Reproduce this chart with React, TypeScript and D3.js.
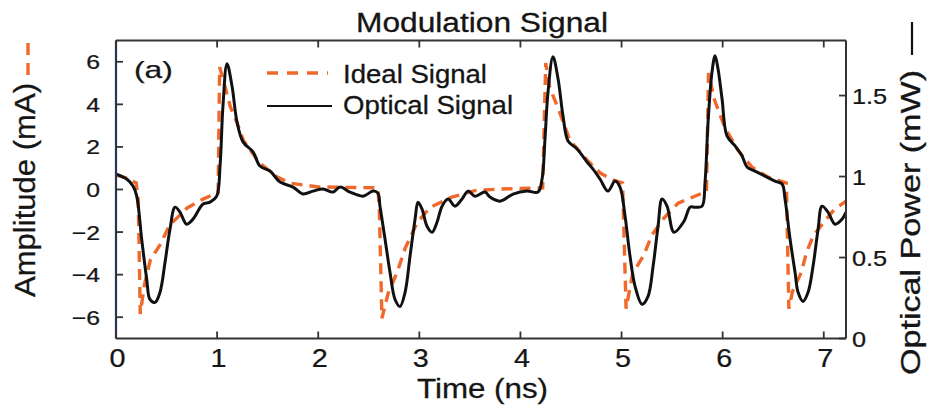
import React from "react";
import * as d3 from "d3";

// ---------- data ----------
const timeTicks = [0, 1, 2, 3, 4, 5, 6, 7];
const ampTicks = [-6, -4, -2, 0, 2, 4, 6];
const powerTicks = [0, 0.5, 1, 1.5];

const idealTime = [
  0.0, 0.1, 0.2, 0.22, 0.24, 0.28, 0.34, 0.435, 0.53, 0.7, 0.86, 0.98, 1.01, 1.025, 1.08, 1.13, 1.2, 1.26,
  1.42, 1.59, 1.72, 2.0, 2.3, 2.59, 2.605, 2.63, 2.69, 2.78, 2.86, 2.98, 3.11, 3.32, 3.55, 3.8, 4.22, 4.25,
  4.29, 4.39, 4.49, 4.66, 4.79, 4.92, 5.01, 5.045, 5.11, 5.22, 5.3, 5.42, 5.56, 5.8, 5.84, 5.86, 5.92, 6.02,
  6.15, 6.29, 6.45, 6.63, 6.655, 6.69, 6.78, 6.83, 6.9, 7.1, 7.22,
];
const idealAmp = [
  0.68, 0.55, 0.31, -0.5, -5.85, -4.5, -3.3, -2.6, -1.68, -0.88, -0.45, -0.2, -0.15, 5.75, 4.8, 3.9, 3.1, 2.3,
  1.25, 0.6, 0.3, 0.12, 0.1, 0.08, -1.0, -6.05, -4.9, -3.89, -2.76, -1.54, -0.83, -0.36, -0.05, 0.02, 0.08, 5.94,
  4.8, 3.6, 2.3, 1.38, 0.77, 0.44, 0.3, -5.6, -3.94, -3.09, -2.14, -1.34, -0.64, -0.17, -0.12, 5.47, 4.2, 2.93,
  1.85, 1.05, 0.58, 0.3, -5.6, -4.8, -3.87, -2.94, -2.14, -0.96, -0.55,
];

const opticalTime = [
  0.0, 0.106, 0.168, 0.205, 0.254, 0.304, 0.336, 0.386, 0.435, 0.485, 0.534, 0.584, 0.633, 0.699, 0.762, 0.861,
  0.93, 0.996, 1.029, 1.058, 1.098, 1.147, 1.197, 1.256, 1.355, 1.424, 1.523, 1.622, 1.751, 1.85, 1.948, 2.047,
  2.146, 2.216, 2.315, 2.443, 2.542, 2.59, 2.611, 2.661, 2.71, 2.76, 2.809, 2.859, 2.908, 2.958, 2.987, 3.027,
  3.076, 3.126, 3.175, 3.225, 3.284, 3.353, 3.422, 3.482, 3.551, 3.65, 3.699, 3.798, 3.927, 4.065, 4.174, 4.214,
  4.243, 4.273, 4.322, 4.372, 4.421, 4.471, 4.56, 4.659, 4.718, 4.787, 4.866, 4.936, 4.985, 5.035, 5.084, 5.134,
  5.203, 5.262, 5.312, 5.361, 5.401, 5.45, 5.519, 5.618, 5.678, 5.727, 5.796, 5.826, 5.856, 5.895, 5.925, 5.954,
  5.994, 6.043, 6.123, 6.192, 6.241, 6.32, 6.419, 6.518, 6.588, 6.617, 6.667, 6.716, 6.746, 6.795, 6.845, 6.894,
  6.944, 6.983, 7.042, 7.112, 7.181, 7.22,
];
const opticalPower = [
  1.015, 0.985, 0.941, 0.879, 0.613, 0.365, 0.241, 0.223, 0.285, 0.471, 0.675, 0.811, 0.78, 0.706, 0.737, 0.83,
  0.842, 0.879, 1.065, 1.437, 1.697, 1.56, 1.337, 1.214, 1.152, 1.065, 1.034, 0.966, 0.935, 0.892, 0.91, 0.923,
  0.904, 0.935, 0.904, 0.879, 0.91, 0.898, 0.817, 0.613, 0.409, 0.241, 0.198, 0.285, 0.508, 0.737, 0.842, 0.799,
  0.693, 0.656, 0.718, 0.817, 0.861, 0.817, 0.861, 0.91, 0.879, 0.904, 0.873, 0.848, 0.892, 0.91, 0.904, 0.985,
  1.232, 1.523, 1.74, 1.604, 1.375, 1.22, 1.17, 1.09, 1.046, 0.985, 0.91, 0.972, 0.935, 0.755, 0.508, 0.322,
  0.211, 0.26, 0.446, 0.693, 0.861, 0.817, 0.656, 0.724, 0.811, 0.811, 0.817, 0.966, 1.337, 1.647, 1.746, 1.666,
  1.48, 1.251, 1.189, 1.127, 1.059, 1.034, 1.003, 0.972, 0.954, 0.861, 0.613, 0.409, 0.285, 0.229, 0.285, 0.446,
  0.675, 0.817, 0.78, 0.706, 0.737, 0.78,
];

// ---------- layout / style ----------
const W = 928;
const H = 409;
const L = 116;
const R = 846;
const T = 40.5;
const B = 338.5;
const ORANGE = "#f0692b";
const FONT = "'Liberation Sans', Arial, Helvetica, sans-serif";
const TEXT = "#151515";
const TICK = 7;

export default function App() {
  const x = d3.scaleLinear().domain([0, 7.22]).range([L, R]);
  const yAmp = d3.scaleLinear().domain([-7, 7]).range([B, T]);
  const yPow = d3.scaleLinear().domain([0, 1.84]).range([B, T]);

  const idealData = idealTime.map((t, i) => [t, idealAmp[i]] as [number, number]);
  const opticalData = opticalTime.map((t, i) => [t, opticalPower[i]] as [number, number]);

  const idealLine = d3
    .line<[number, number]>()
    .x((d) => x(d[0]))
    .y((d) => yAmp(d[1]))
    .curve(d3.curveLinear);
  const opticalLine = d3
    .line<[number, number]>()
    .x((d) => x(d[0]))
    .y((d) => yPow(d[1]))
    .curve(d3.curveCatmullRom.alpha(0.5));

  const fmtAmp = d3.format("d");
  const fmtPow = (v: number) => String(v);

  return (
    <svg
      width={W}
      height={H}
      style={{ position: "absolute", left: 0, top: 0, background: "#fff" }}
      fontFamily={FONT}
    >
      <defs>
        <clipPath id="plot">
          <rect x={L} y={T} width={R - L} height={B - T} />
        </clipPath>
      </defs>

      {/* title */}
      <text x={482} y={32} fontSize={27} textAnchor="middle" fill={TEXT} stroke={TEXT} strokeWidth={0.3} textLength={252} lengthAdjust="spacingAndGlyphs">
        Modulation Signal
      </text>

      {/* curves */}
      <g clipPath="url(#plot)">
        <path
          d={idealLine(idealData) || ""}
          fill="none"
          stroke={ORANGE}
          strokeWidth={3.4}
          strokeDasharray="11,7"
        />
        <path d={opticalLine(opticalData) || ""} fill="none" stroke="#111" strokeWidth={3} strokeLinejoin="round" />
      </g>

      {/* frame */}
      <line x1={L} x2={R} y1={T} y2={T} stroke="#333" strokeWidth={2} />
      <line x1={L} x2={R} y1={B} y2={B} stroke="#333" strokeWidth={2} />
      <line x1={R} x2={R} y1={T} y2={B} stroke="#333" strokeWidth={2} />
      <line x1={L} x2={L} y1={T} y2={B} stroke="#2b3358" strokeWidth={2.2} />

      {/* x ticks (bottom and top, inward) */}
      {timeTicks.map((t) => (
        <g key={"xt" + t}>
          <line x1={x(t)} x2={x(t)} y1={B} y2={B - TICK} stroke="#333" strokeWidth={1.8} />
          <line x1={x(t)} x2={x(t)} y1={T} y2={T + TICK} stroke="#333" strokeWidth={1.8} />
          <text
            transform={`translate(${x(t) + 1.5},367) scale(1.15,1)`}
            fontSize={25}
            textAnchor="middle"
            fill={TEXT}
            stroke={TEXT}
            strokeWidth={0.25}
          >
            {t}
          </text>
        </g>
      ))}

      {/* left amplitude ticks */}
      {ampTicks.map((v) => (
        <g key={"ya" + v}>
          <line x1={L} x2={L + TICK} y1={yAmp(v)} y2={yAmp(v)} stroke="#333" strokeWidth={1.8} />
          <text
            transform={`translate(100,${yAmp(v) + 7.5}) scale(1.18,1)`}
            fontSize={21}
            textAnchor="end"
            fill={TEXT}
            stroke={TEXT}
            strokeWidth={0.25}
          >
            {v < 0 ? "\u2212" + fmtAmp(-v) : fmtAmp(v)}
          </text>
        </g>
      ))}

      {/* right power ticks */}
      {powerTicks.map((v) => (
        <g key={"yp" + v}>
          <line x1={R} x2={R - TICK} y1={yPow(v)} y2={yPow(v)} stroke="#333" strokeWidth={1.8} />
          <text
            transform={`translate(852,${yPow(v) + 8}) scale(1.15,1)`}
            fontSize={22}
            textAnchor="start"
            fill={TEXT}
            stroke={TEXT}
            strokeWidth={0.25}
          >
            {fmtPow(v)}
          </text>
        </g>
      ))}

      {/* axis labels */}
      <text x={482.5} y={398} fontSize={27} textAnchor="middle" fill={TEXT} stroke={TEXT} strokeWidth={0.3} textLength={131} lengthAdjust="spacingAndGlyphs">
        Time (ns)
      </text>
      <text
        transform="translate(35,190) rotate(-90)"
        fontSize={30}
        textAnchor="middle"
        fill={TEXT}
        stroke={TEXT}
        strokeWidth={0.3}
        textLength={214}
        lengthAdjust="spacingAndGlyphs"
      >
        Amplitude (mA)
      </text>
      <line x1={28} x2={28} y1={43} y2={55} stroke={ORANGE} strokeWidth={3.4} />
      <line x1={28} x2={28} y1={63} y2={75} stroke={ORANGE} strokeWidth={3.4} />

      <text
        transform="translate(920,222.5) rotate(-90)"
        fontSize={28}
        textAnchor="middle"
        fill={TEXT}
        stroke={TEXT}
        strokeWidth={0.3}
        textLength={305}
        lengthAdjust="spacingAndGlyphs"
      >
        Optical Power (mW)
      </text>
      <line x1={912} x2={912} y1={22} y2={55} stroke="#111" strokeWidth={2.2} />

      {/* panel label */}
      <text x={134} y={78} fontSize={24} fill={TEXT} stroke={TEXT} strokeWidth={0.25} textLength={39} lengthAdjust="spacingAndGlyphs">
        (a)
      </text>

      {/* legend */}
      <line x1={267} x2={328} y1={73} y2={73} stroke={ORANGE} strokeWidth={3.4} strokeDasharray="11,9" />
      <text x={343} y={83} fontSize={25} fill={TEXT} stroke={TEXT} strokeWidth={0.3} textLength={144} lengthAdjust="spacingAndGlyphs">
        Ideal Signal
      </text>
      <line x1={267} x2={332} y1={106} y2={106} stroke="#111" strokeWidth={2} />
      <text x={343} y={114} fontSize={25} fill={TEXT} stroke={TEXT} strokeWidth={0.3} textLength={170} lengthAdjust="spacingAndGlyphs">
        Optical Signal
      </text>
    </svg>
  );
}
